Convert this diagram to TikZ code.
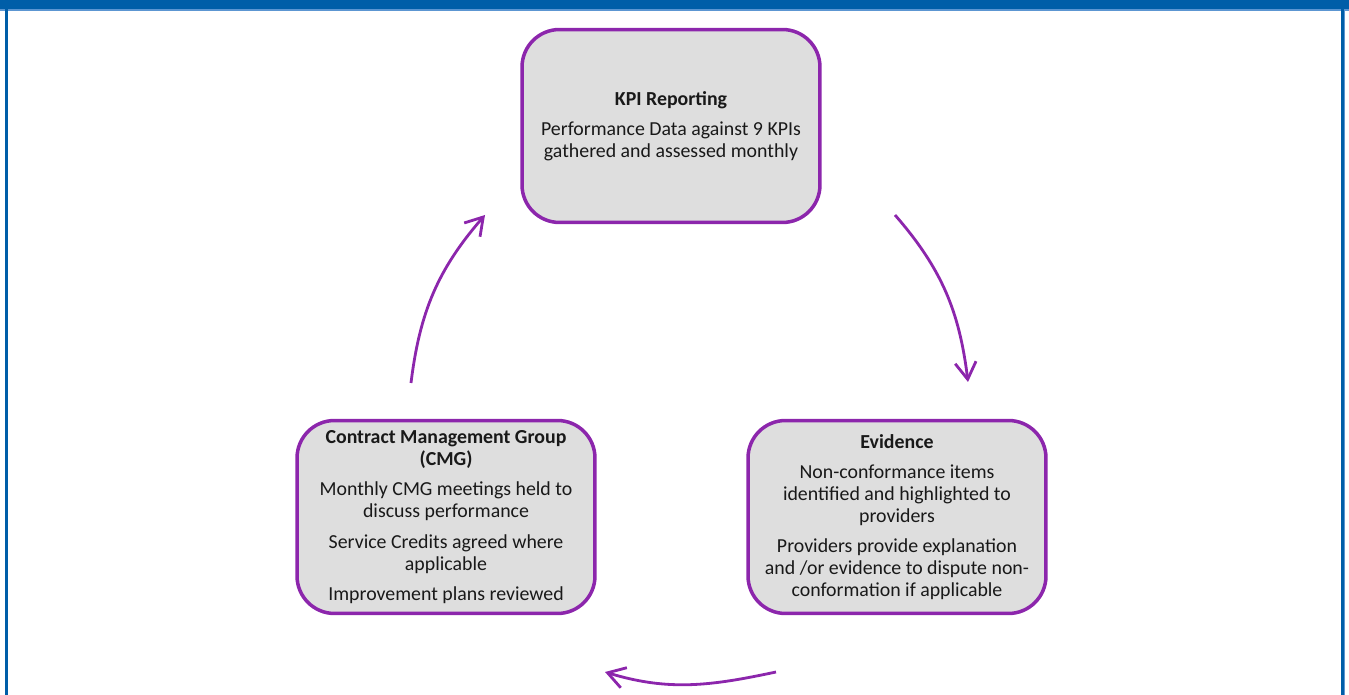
\documentclass[tikz,border=0pt]{standalone}
\usepackage{fontspec}
\setmainfont{Carlito}
\usetikzlibrary{arrows.meta}

\definecolor{bandblue}{RGB}{0,94,168}
\definecolor{lineblue}{RGB}{92,150,210}
\definecolor{boxpurple}{RGB}{140,38,172}
\definecolor{boxgray}{RGB}{222,222,222}

\begin{document}
\begin{tikzpicture}[x=0.02cm,y=0.02cm,
  stage/.style={draw=boxpurple,line width=2pt,fill=boxgray,rounded corners=0.75cm,
    minimum width=5.96cm,minimum height=3.86cm,align=center,inner sep=0pt,
    font=\fontsize{11.3}{12.5}\selectfont,text=black!90},
  cycle/.style={draw=boxpurple,line width=1.6pt,-{Straight Barb[length=0.34cm,width=0.42cm]}}]

\useasboundingbox (0,0) rectangle (1349,-695);

% frame
\fill[bandblue] (0,0) rectangle (1349,-9.5);
\fill[lineblue] (0,-9.5) rectangle (1349,-11);
\fill[bandblue] (5,-9.5) rectangle (7.5,-695);
\fill[bandblue] (1340.5,-9.5) rectangle (1343.5,-695);
\fill[lineblue] (1343.5,-11) rectangle (1345,-695);

\node[stage] (kpi) at (671,-126) {\textbf{KPI Reporting}\\[4.8pt]
  Performance Data against 9 KPIs\\gathered and assessed monthly};
\node[stage] (evid) at (897,-517) {\textbf{Evidence}\\[4.8pt]
  Non-conformance items\\identified and highlighted to\\providers\\[4.8pt]
  Providers provide explanation\\and /or evidence to dispute non-\\conformation if applicable};
\node[stage] (cmg) at (446,-517) {\textbf{Contract Management Group}\\\textbf{(CMG)}\\[4.8pt]
  Monthly CMG meetings held to\\discuss performance\\[4.8pt]
  Service Credits agreed where\\applicable\\[4.8pt]
  Improvement plans reviewed};

\coordinate (a1) at (895,-215);
\coordinate (a2) at (968,-382);
\coordinate (b1) at (776,-672);
\coordinate (b2) at (605,-672);
\coordinate (c1) at (411,-383);
\coordinate (c2) at (485,-215);

\draw[cycle] (a1) to[out=-49,in=97] (a2);
\draw[cycle] (b1) to[out=192,in=343] (b2);
\draw[cycle] (c1) to[out=83,in=229] (c2);

\end{tikzpicture}
\end{document}
